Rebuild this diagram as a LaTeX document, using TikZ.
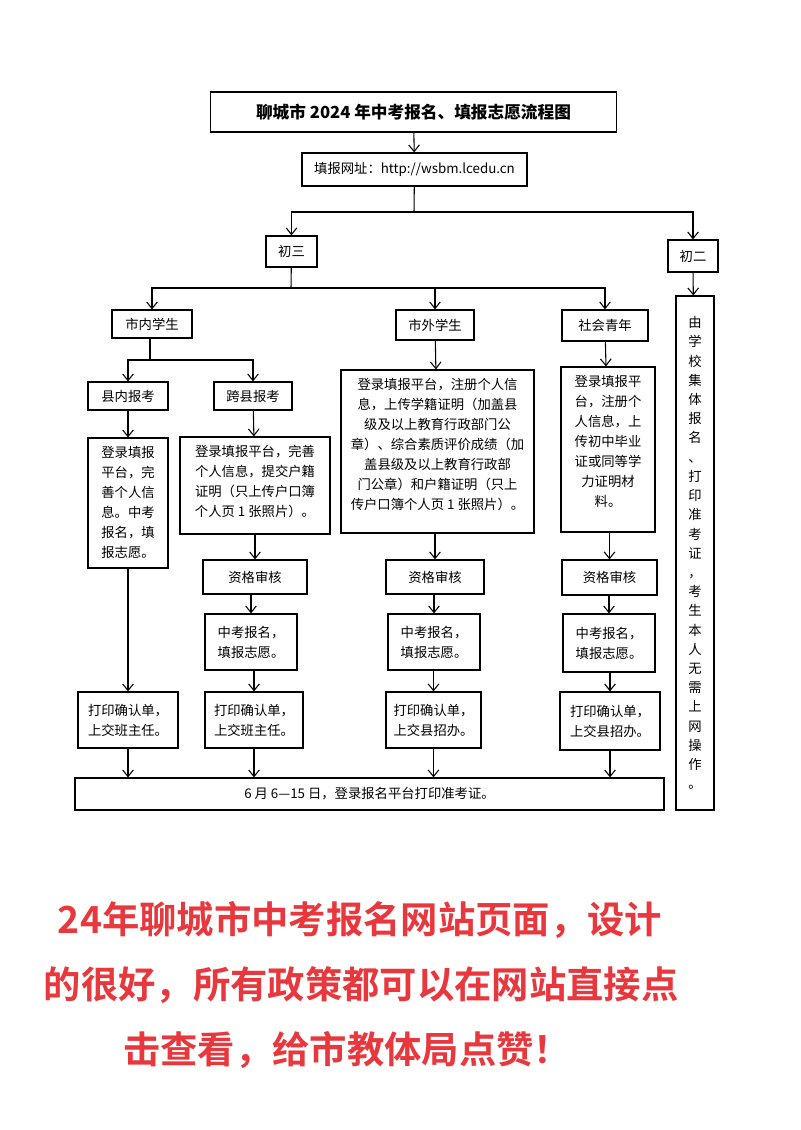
\documentclass[tikz,border=0pt]{standalone}
\usepackage{fontspec}
\setmainfont{Noto Sans CJK SC}
\newfontfamily\cjkbold{Noto Sans CJK SC}[BoldFont=* Bold]
\usetikzlibrary{arrows.meta}
\definecolor{slogan}{HTML}{E8383D}

\tikzset{
  box/.style={draw, line width=0.9pt, inner sep=0pt, align=center,
    font=\fontsize{10}{15}\selectfont},
  flow/.style={line width=0.8pt, -{Straight Barb[length=5pt,width=8pt]}},
  link/.style={line width=0.8pt},
  motto/.style={text=slogan, font=\cjkbold\bfseries\fontsize{28}{32}\selectfont}
}
\newcommand{\tbox}[3]{\parbox[c][#2][t]{#1}{\centering\vspace{6pt}#3}}

\begin{document}
\begin{tikzpicture}[x=0.75pt,y=-0.75pt]
        \useasboundingbox (0,0) rectangle (800,1130);
        % header
        \node[box, minimum width=305pt, minimum height=30pt, font=\fontsize{12.5}{15}\selectfont\bfseries] (title) at (413.5,112) {聊城市 2024 年中考报名、填报志愿流程图};
        \node[box, minimum width=168.75pt, minimum height=24.75pt] (url) at (414.5,169.5) {填报网址：http://wsbm.lcedu.cn};
        \node[box, minimum width=38.25pt, minimum height=23.25pt] (c3) at (291.5,251.5) {初三};
        \node[box, minimum width=37.5pt, minimum height=24pt] (c2) at (693,256) {初二};
        \coordinate (b1) at (414,212);
        \coordinate (b2) at (291,288);
        \coordinate (b3) at (150,360);
        \draw[flow] (title) -- (url);
        \draw[link] (url) -- (b1);
        \draw[flow] (b1) -| (c3.north);
        \draw[flow] (b1) -| (c2.north);
        % groups
        \node[box, minimum width=60pt, minimum height=21pt] (snei) at (152,324) {市内学生};
        \node[box, minimum width=58.5pt, minimum height=22.5pt] (swai) at (435,325) {市外学生};
        \node[box, minimum width=64.5pt, minimum height=23.25pt] (shqn) at (605,325.5) {社会青年};
        \draw[link] (c3) -- (b2);
        \draw[flow] (b2) -| (snei.north);
        \draw[flow] (b2) -| (shqn.north);
        \draw[flow] (swai.north |- b2) -- (swai.north);
        \node[box, minimum width=60pt, minimum height=21pt] (xn) at (128,396) {县内报考};
        \node[box, minimum width=58.5pt, minimum height=21pt] (kx) at (253,396) {跨县报考};
        \draw[link] (snei.south -| b3) -- (b3);
        \draw[flow] (b3) -| (xn.north);
        \draw[flow] (b3) -| (kx.north);
        % registration texts
        \node[box] (xnt) at (128,503) {\tbox{60pt}{97.5pt}{登录填报\\平台，完\\善个人信\\息。中考\\报名，填\\报志愿。}};
        \node[box] (kxt) at (255,485.5) {\tbox{112.5pt}{72.75pt}{登录填报平台，完善\\个人信息，提交户籍\\证明（只上传户口簿\\个人页 1 张照片）。}};
        \node[box] (swt) at (437.5,451.5) {\tbox{144.75pt}{122.25pt}{登录填报平台，注册个人信\\息，上传学籍证明（加盖县\\级及以上教育行政部门公\\章）、综合素质评价成绩（加\\盖县级及以上教育行政部\\门公章）和户籍证明（只上\\传户口簿个人页 1 张照片）。}};
        \node[box] (sht) at (608,449.5) {\tbox{70.5pt}{123.75pt}{登录填报平\\台，注册个\\人信息，上\\传初中毕业\\证或同等学\\力证明材\\料。}};
        \draw[flow] (xn) -- (xnt);
        \draw[flow] (kx) -- (kxt);
        \draw[flow] (swai) -- (swt);
        \draw[flow] (shqn) -- (sht);
        % review
        \node[box, minimum width=78pt, minimum height=25.5pt] (zgkx) at (255,577) {资格审核};
        \node[box, minimum width=73.5pt, minimum height=25.5pt] (zgsw) at (435,577) {资格审核};
        \node[box, minimum width=71.25pt, minimum height=26.25pt] (zgsh) at (609.5,577.5) {资格审核};
        \node[box, minimum width=69pt, minimum height=42pt] (zkkx) at (251,642) {中考报名，\\填报志愿。};
        \node[box, minimum width=69pt, minimum height=42pt] (zksw) at (434,642) {中考报名，\\填报志愿。};
        \node[box, minimum width=69pt, minimum height=43.5pt] (zksh) at (609,643) {中考报名，\\填报志愿。};
        \draw[flow] (kxt.south -| zgkx) -- (zgkx);
        \draw[flow] (swt.south -| zgsw) -- (zgsw);
        \draw[flow] (sht.south -| zgsh) -- (zgsh);
        \draw[flow] (zgkx.south -| zkkx) -- (zkkx);
        \draw[flow] (zgsw.south -| zksw) -- (zksw);
        \draw[flow] (zgsh.south -| zksh) -- (zksh);
        % print
        \node[box, minimum width=75pt, minimum height=42pt] (dyxn) at (128,720) {打印确认单，\\上交班主任。};
        \node[box, minimum width=73.5pt, minimum height=42pt] (dykx) at (254,720) {打印确认单，\\上交班主任。};
        \node[box, minimum width=71.25pt, minimum height=42pt] (dysw) at (433.5,720) {打印确认单，\\上交县招办。};
        \node[box, minimum width=75pt, minimum height=43.5pt] (dysh) at (610,721) {打印确认单，\\上交县招办。};
        \draw[flow] (xnt) -- (dyxn);
        \draw[flow] (zkkx.south -| dykx) -- (dykx);
        \draw[flow] (zksw.south -| dysw) -- (dysw);
        \draw[flow] (zksh.south -| dysh) -- (dysh);
        \node[box, minimum width=441.75pt, minimum height=24pt] (ticket) at (369.5,794) {6 月 6—15 日，登录报名平台打印准考证。};
        \foreach \p in {dyxn,dykx,dysw,dysh}
          \draw[flow] (\p) -- (\p.south |- ticket.north);
        % grade two
        \node[box, minimum width=28.5pt, minimum height=385.5pt, font=\fontsize{10}{14.4}\selectfont] (c2t) at (695,553)
          {由\\学\\校\\集\\体\\报\\名\\、\\打\\印\\准\\考\\证\\，\\考\\生\\本\\人\\无\\需\\上\\网\\操\\作\\。};
        \draw[flow] (c2) -- (c2t);
        % slogan
        \node[motto] (s1) at (360,920) {24年聊城市中考报名网站页面，设计};
        \node[motto] (s2) at (361,985) {的很好，所有政策都可以在网站直接点};
        \node[motto] (s3) at (347,1050) {击查看，给市教体局点赞！};
\end{tikzpicture}
\end{document}
